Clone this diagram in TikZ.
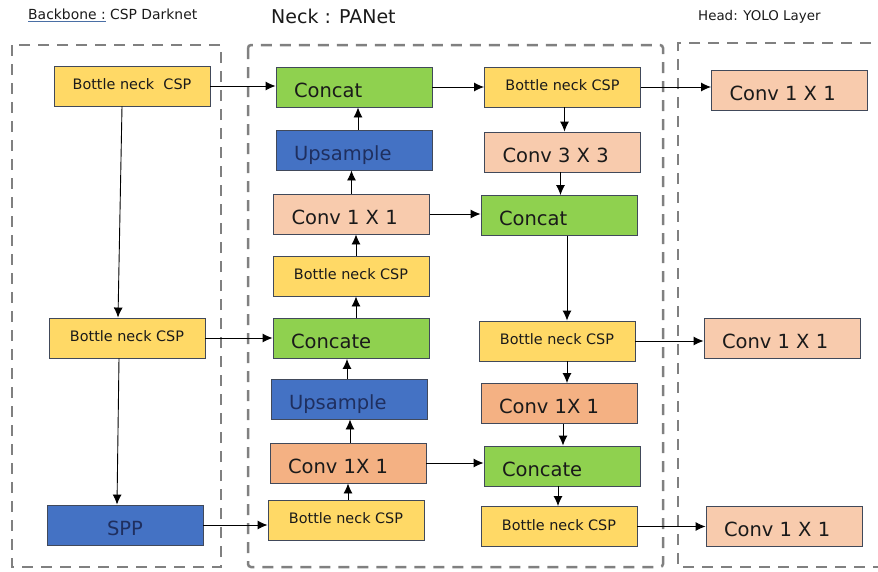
\documentclass[tikz,border=0pt]{standalone}
\usepackage{fontspec}
\setmainfont{DejaVu Sans}
\usetikzlibrary{arrows.meta,calc}
\definecolor{cyellow}{HTML}{FFD966}
\definecolor{cgreen}{HTML}{8FD14F}
\definecolor{cblue}{HTML}{4472C4}
\definecolor{cpeach}{HTML}{F8CBAD}
\definecolor{corange}{HTML}{F4B183}
\definecolor{cedge}{HTML}{41495A}
\definecolor{cdash}{HTML}{808080}
\definecolor{cnavy}{HTML}{1F2F5F}
\definecolor{ctext}{HTML}{1A1A1A}
\definecolor{culine}{HTML}{4A6FA5}
\newcommand{\lefttext}[1]{\makebox[120pt][l]{#1}}
\begin{document}
\begin{tikzpicture}[x=1pt,y=-1pt,
  box/.style={draw=cedge, line width=0.9pt, minimum height=40pt, inner ysep=0pt, anchor=center, text=ctext},
  lbl/.style={box, font=\fontsize{19.5}{22}\selectfont, inner xsep=18pt, text height=20.2pt, text depth=0pt},
  cbox/.style={box, minimum width=156pt, inner xsep=0pt, align=center},
  bnc/.style={cbox, fill=cyellow, font=\fontsize{14.4}{17}\selectfont, text height=7.9pt, text depth=0pt},
  greenbox/.style={lbl, fill=cgreen},
  bluebox/.style={lbl, fill=cblue, text=cnavy},
  peachbox/.style={lbl, fill=cpeach},
  orangebox/.style={lbl, fill=corange},
  arr/.style={-{Latex[length=10pt,width=9pt]}, line width=0.9pt, draw=black},
  frame/.style={draw=cdash, line width=2.5pt, dash pattern=on 11pt off 8pt},
  title/.style={anchor=base west, inner sep=0pt, text=ctext}
]
\useasboundingbox (0,0) rectangle (878,571);

% frames
\draw[frame] (12,45) rectangle (221,567);
\draw[frame, rounded corners=3pt] (248,45) rectangle (663,567);
\draw[frame] (890,43) -- (678,43) -- (678,567) -- (890,567);

% titles
\node[title, font=\fontsize{13.9}{16}\selectfont] (tb) at (28,19.3) {{\color{culine}\underline{\color{ctext}Backbone :}} CSP Darknet};
\node[title, font=\fontsize{19}{22}\selectfont] (tn) at (271,23.3) {Neck : PANet};
\node[title, font=\fontsize{13.4}{16}\selectfont] (th) at (698,20) {Head: YOLO Layer};

% backbone
\node[bnc] (b1) at (132,86) {Bottle neck\ \ CSP};
\node[bnc] (b2) at (127,338) {Bottle neck CSP};
\node[cbox, fill=cblue, text=cnavy, font=\fontsize{19.5}{22}\selectfont, text height=20.2pt, text depth=0pt] (spp) at (125,525) {SPP};

% neck column 1
\node[greenbox] (c1) at (354,87) {\lefttext{Concat}};
\node[bluebox] (u1) at (354,150) {\lefttext{Upsample}};
\node[peachbox] (k1) at (351.5,214) {\lefttext{Conv 1 X 1}};
\node[bnc] (n1) at (351,276) {Bottle neck CSP};
\node[greenbox] (ce1) at (351,338.5) {\lefttext{Concate}};
\node[bluebox] (u2) at (349,399) {\lefttext{Upsample}};
\node[orangebox] (k2) at (348,463) {\lefttext{Conv 1X 1}};
\node[bnc] (n2) at (346,520) {Bottle neck CSP};

% neck column 2
\node[bnc] (r1) at (562.5,87) {Bottle neck CSP};
\node[peachbox] (k3) at (562.5,152) {\lefttext{Conv 3 X 3}};
\node[greenbox] (cc2) at (559,215.5) {\lefttext{Concat}};
\node[bnc] (r5) at (557,341) {Bottle neck CSP};
\node[orangebox] (k4) at (559,403.5) {\lefttext{Conv 1X 1}};
\node[greenbox] (cc3) at (562,466) {\lefttext{Concate}};
\node[bnc] (r7) at (559,526.5) {Bottle neck CSP};

% head
\node[peachbox] (h1) at (789.5,90) {\lefttext{Conv 1 X 1}};
\node[peachbox] (h2) at (782,338.5) {\lefttext{Conv 1 X 1}};
\node[peachbox] (h3) at (784,526.5) {\lefttext{Conv 1 X 1}};

% backbone arrows
\draw[arr] ([xshift=-10pt]b1.south) -- ([xshift=-9pt]b2.north);
\draw[arr] ([xshift=-8pt]b2.south) -- ([xshift=-8pt]spp.north);
\draw[arr] (b1.east) -- (b1.east -| c1.west);
\draw[arr] (b2.east) -- (b2.east -| ce1.west);
\draw[arr] (spp.east) -- (spp.east -| n2.west);

% neck column 1 (upwards)
\draw[arr] ([xshift=4pt]u1.north) -- ([xshift=4pt]u1.north |- c1.south);
\draw[arr] (k1.north) -- (k1.north |- u1.south);
\draw[arr] ([xshift=5pt]n1.north) -- ([xshift=5pt]n1.north |- k1.south);
\draw[arr] ([xshift=5pt]ce1.north) -- ([xshift=5pt]ce1.north |- n1.south);
\draw[arr] ([xshift=-2pt]u2.north) -- ([xshift=-2pt]u2.north |- ce1.south);
\draw[arr] ([xshift=2pt]k2.north) -- ([xshift=2pt]k2.north |- u2.south);
\draw[arr] ([xshift=2pt]n2.north) -- ([xshift=2pt]n2.north |- k2.south);

% cross arrows
\draw[arr] (c1.east) -- (c1.east -| r1.west);
\draw[arr] (k1.east) -- (k1.east -| cc2.west);
\draw[arr] (k2.east) -- (k2.east -| cc3.west);

% neck column 2 (downwards)
\draw[arr] ([xshift=2pt]r1.south) -- ([xshift=2pt]r1.south |- k3.north);
\draw[arr] ([xshift=-2pt]k3.south) -- ([xshift=-2pt]k3.south |- cc2.north);
\draw[arr] ([xshift=8pt]cc2.south) -- ([xshift=8pt]cc2.south |- r5.north);
\draw[arr] ([xshift=10pt]r5.south) -- ([xshift=10pt]r5.south |- k4.north);
\draw[arr] ([xshift=4pt]k4.south) -- ([xshift=4pt]k4.south |- cc3.north);
\draw[arr] ([xshift=-4pt]cc3.south) -- ([xshift=-4pt]cc3.south |- r7.north);

% to head
\draw[arr] (r1.east) -- (r1.east -| h1.west);
\draw[arr] (r5.east) -- (r5.east -| h2.west);
\draw[arr] (r7.east) -- (r7.east -| h3.west);
\end{tikzpicture}
\end{document}
